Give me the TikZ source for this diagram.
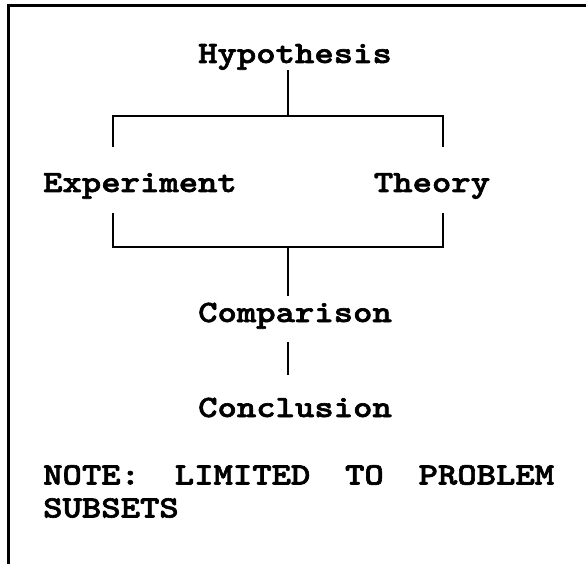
\documentclass[tikz,border=0pt]{standalone}
\usepackage{fontspec}
\newfontfamily\courfont{lmmonolt10-bold}[Extension=.otf, FakeStretch=1.19, FakeBold=2]
\usetikzlibrary{calc}

\begin{document}
\begin{tikzpicture}[
    x=1pt, y=-1pt,
    % step labels
    lbl/.style={anchor=base, inner sep=0pt,
                font=\fontsize{31}{33}\selectfont\courfont},
    % note text below the chart
    notetext/.style={anchor=north west, inner sep=0pt, text width=511pt,
                     align=justify, font=\fontsize{31}{33}\selectfont\courfont},
    link/.style={line width=2.6pt, black},
    frame/.style={line width=3pt, black}
]
\useasboundingbox (0,0) rectangle (586,564);

% ========== Frame (top and left edges) ==========
\draw[frame] (8,564) |- (586,6);

% ========== Steps ==========
\node[lbl] (hyp) at (295,63) {Hypothesis};
\node[lbl] (exp) at (140,192) {Experiment};
\node[lbl] (theo) at (432,192) {Theory};
\node[lbl] (comp) at (295,322) {Comparison};
\node[lbl] (concl) at (295,417) {Conclusion};

% ========== Note ==========
\node[notetext] (note) at (43,465)
    {NOTE:\hfill LIMITED\hfill TO\hfill PROBLEM\\SUBSETS};

% ========== Forks ==========
\coordinate (hypfork) at (288,116);
\coordinate (expjoin) at (113,116);
\coordinate (theojoin) at (443,116);
\coordinate (cmpfork) at (288,247);

% Hypothesis -> Experiment / Theory
\draw[link] (hyp.south -| hypfork) -- (hypfork);
\draw[link] ([yshift=26pt]exp.north -| expjoin) -- (expjoin) -- (theojoin)
    -- ([yshift=26pt]theo.north -| theojoin);

% Experiment / Theory -> Comparison
\draw[link] ([yshift=-14pt]exp.south -| expjoin) |- (cmpfork)
    -| ([yshift=-14pt]theo.south -| theojoin);
\draw[link] (cmpfork) -- ([yshift=7pt]comp.north -| cmpfork);

% Comparison -> Conclusion
\draw[link] ([yshift=-13pt]comp.south -| cmpfork) -- ([yshift=23pt]concl.north -| cmpfork);

\end{tikzpicture}
\end{document}
